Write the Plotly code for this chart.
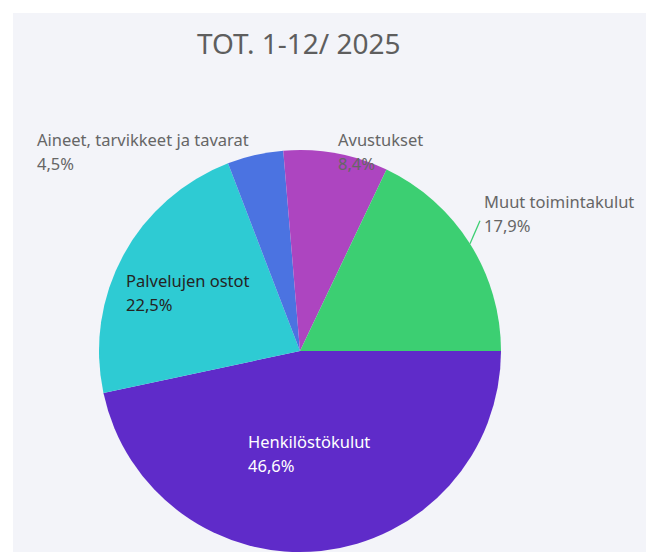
import math
import plotly.graph_objects as go

# ---- data ----
categories = ["Henkilöstökulut", "Palvelujen ostot", "Aineet, tarvikkeet ja tavarat", "Avustukset", "Muut toimintakulut"]
shares = [46.6, 22.5, 4.5, 8.4, 17.9]
title_text = "TOT. 1-12/ 2025"

# ---- styles ----
colors = ["#5f2bc9", "#2ecbd3", "#4b73e1", "#ad45c0", "#3ccf72"]
W, H = 654, 552
OFF = 8  # page body margin
BG = "#f3f4f9"
FONT = "Noto Sans"

# pie geometry (pixels in the screenshot)
cx, cy, R = 300, 351, 201
ROT = 90  # start at 3 o'clock, clockwise

def px(x):
    return (x - OFF) / W

def py(y):
    return 1 - (y - OFF) / H

fig = go.Figure(go.Pie(
    labels=categories,
    values=shares,
    sort=False,
    direction="clockwise",
    rotation=ROT,
    marker=dict(colors=colors, line=dict(width=0)),
    textinfo="none",
    hoverinfo="label+percent",
    domain=dict(x=[px(cx - R), px(cx + R)], y=[max(0, py(cy + R)), py(cy - R)]),
    showlegend=False,
))

# label placement (pixels: left x, centre y of first line) and colours
label_pos = {
    "Henkilöstökulut": (246, 441, "#ffffff"),
    "Palvelujen ostot": (124, 280, "#252423"),
    "Aineet, tarvikkeet ja tavarat": (35, 140, "#666666"),
    "Avustukset": (336, 140, "#666666"),
    "Muut toimintakulut": (482, 201, "#666666"),
}
total = sum(shares)
annotations = []
for cat, v in zip(categories, shares):
    x, y, c = label_pos[cat]
    pct = f"{v / total * 100:.1f}%".replace(".", ",")
    for i, t in enumerate([cat, pct]):
        annotations.append(dict(
            x=px(x), y=py(y + i * 24), xref="paper", yref="paper",
            xanchor="left", yanchor="middle", showarrow=False, align="left",
            text=t, font=dict(family=FONT, size=16.5, color=c),
        ))

# leader line for the "Muut toimintakulut" slice, from its edge at mid-angle
shapes = [dict(type="rect", xref="paper", yref="paper", x0=px(13), x1=px(648), y0=-0.1, y1=py(13),
               fillcolor=BG, line=dict(width=0), layer="below")]
cum = 0
for cat, v, col in zip(categories, shares, colors):
    mid = ROT + (cum + v / 2) / total * 360
    cum += v
    if cat == "Muut toimintakulut":
        a = math.radians(mid)
        x0, y0 = cx + R * math.sin(a), cy - R * math.cos(a)
        x1, y1 = x0 + 10, y0 - 23
        shapes.append(dict(type="line", xref="paper", yref="paper",
                           x0=px(x0), y0=py(y0), x1=px(x1), y1=py(y1),
                           line=dict(color=col, width=1.3), layer="above"))

annotations.append(dict(
    x=px(299), y=py(43), xref="paper", yref="paper", xanchor="center", yanchor="middle",
    showarrow=False, text=title_text, font=dict(family=FONT, size=28, color="#5e5e5e"),
))

fig.update_layout(
    width=W, height=H,
    margin=dict(l=0, r=0, t=0, b=0),
    paper_bgcolor="#ffffff",
    separators=", ",
    shapes=shapes,
    annotations=annotations,
)

fig.write_html("out.html")
